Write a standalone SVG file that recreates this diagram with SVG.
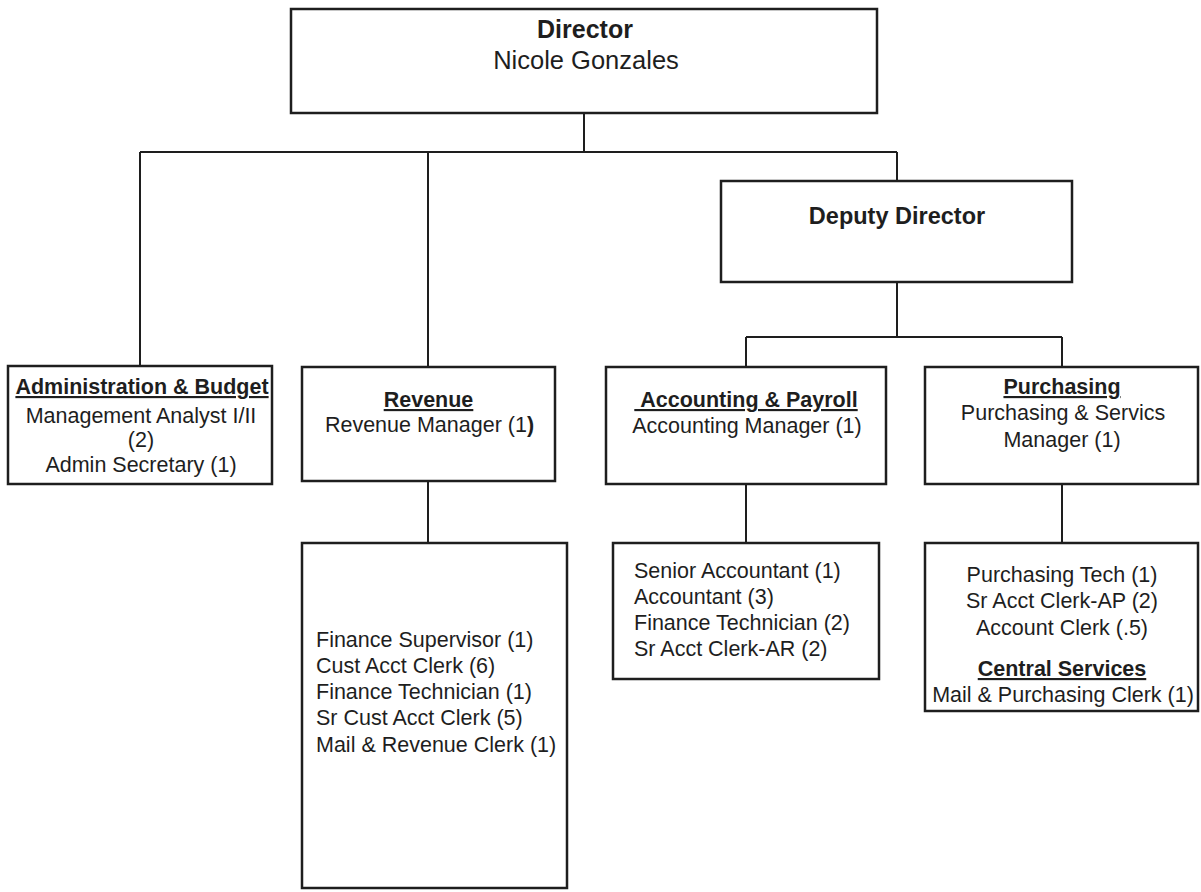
<svg xmlns="http://www.w3.org/2000/svg" width="1201" height="892" viewBox="0 0 1201 892">
<style>
.box{fill:#fff;stroke:#1e1e1e;stroke-width:2.5}
.ln{fill:none;stroke:#1e1e1e;stroke-width:2}
text{font-family:"Liberation Sans",Arial,sans-serif;fill:#1e1e1e;font-size:21.5px}
.c{text-anchor:middle}
.b{font-weight:bold}
.u{font-weight:bold;text-decoration:underline}
.big{font-size:25px}
</style>
<rect width="1201" height="892" fill="#fff"/>
<g id="connectors">
<path class="ln" d="M584 113 V152 M140 152 H897 M140 152 V367 M428 152 V367 M897 152 V181"/>
<path class="ln" d="M897 282 V337 M746 337 H1062 M746 337 V367 M1062 337 V367"/>
<path class="ln" d="M428 481 V543 M746 484 V543 M1062 484 V543"/>
</g>
<g id="director">
<rect class="box" x="291" y="9" width="586" height="104"/>
<text class="c b big" x="585" y="38">Director</text>
<text class="c big" x="586" y="69" style="font-size:25.5px">Nicole Gonzales</text>
</g>
<g id="deputy">
<rect class="box" x="721" y="181" width="351" height="101"/>
<text class="c b" x="897" y="224" style="font-size:23.5px">Deputy Director</text>
</g>
<g id="admin">
<rect class="box" x="8" y="366" width="264" height="118"/>
<text class="c u" x="142" y="394">Administration &amp; Budget</text>
<text class="c" x="141" y="423">Management Analyst I/II</text>
<text class="c" x="141" y="447">(2)</text>
<text class="c" x="141" y="472">Admin Secretary (1)</text>
</g>
<g id="revenue">
<rect class="box" x="302" y="367" width="253" height="114"/>
<text class="c u" x="428.5" y="407">Revenue</text>
<text class="c" x="429.5" y="432">Revenue Manager (1<tspan class="b">)</tspan></text>
</g>
<g id="accounting">
<rect class="box" x="606" y="367" width="280" height="117"/>
<text class="c u" x="746" y="407">&#160;Accounting &amp; Payroll</text>
<text class="c" x="747" y="433">Accounting Manager (1)</text>
</g>
<g id="purchasing">
<rect class="box" x="925" y="367" width="273" height="117"/>
<text class="c u" x="1062" y="394">Purchasing</text>
<text class="c" x="1063" y="420">Purchasing &amp; Servics</text>
<text class="c" x="1062" y="447">Manager (1)</text>
</g>
<g id="revenue-staff">
<rect class="box" x="302" y="543" width="265" height="345"/>
<text x="316" y="647">Finance Supervisor (1)</text>
<text x="316" y="673">Cust Acct Clerk (6)</text>
<text x="316" y="699">Finance Technician (1)</text>
<text x="316" y="725">Sr Cust Acct Clerk (5)</text>
<text x="316" y="752">Mail &amp; Revenue Clerk (1)</text>
</g>
<g id="accounting-staff">
<rect class="box" x="613" y="543" width="266" height="136"/>
<text x="634" y="578">Senior Accountant (1)</text>
<text x="634" y="604">Accountant (3)</text>
<text x="634" y="630">Finance Technician (2)</text>
<text x="634" y="656">Sr Acct Clerk-AR (2)</text>
</g>
<g id="purchasing-staff">
<rect class="box" x="925" y="543" width="273" height="168"/>
<text class="c" x="1062" y="582">Purchasing Tech (1)</text>
<text class="c" x="1062" y="608">Sr Acct Clerk-AP (2)</text>
<text class="c" x="1062" y="635">Account Clerk (.5)</text>
<text class="c u" x="1062" y="676">Central Services</text>
<text class="c" x="1063" y="702">Mail &amp; Purchasing Clerk (1)</text>
</g>
</svg>
